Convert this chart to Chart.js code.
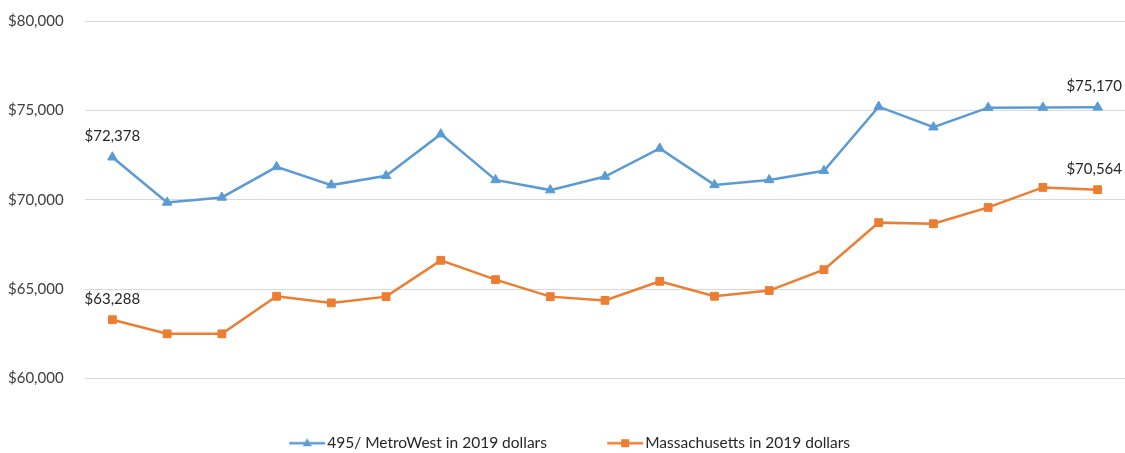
<!DOCTYPE html>
<html>
<head>
<meta charset="utf-8">
<script src="https://cdn.jsdelivr.net/npm/chart.js@4.4.1/dist/chart.umd.min.js"></script>
<style>
  html, body { margin: 0; padding: 0; background: #ffffff; }
  #wrap { width: 1125px; height: 453px; position: relative; }
</style>
</head>
<body>
<div id="wrap"><canvas id="c" width="1125" height="453"></canvas></div>
<script>
const categories = ["2001","2002","2003","2004","2005","2006","2007","2008","2009","2010","2011","2012","2013","2014","2015","2016","2017","2018","2019"];
const metroWest = [72378, 69850, 70130, 71840, 70820, 71340, 73670, 71110, 70540, 71300, 72870, 70830, 71110, 71620, 75210, 74060, 75150, 75160, 75170];
const massachusetts = [63288, 62500, 62500, 64600, 64230, 64580, 66610, 65530, 64580, 64370, 65440, 64600, 64920, 66090, 68720, 68660, 69570, 70690, 70564];
const seriesNames = ["495/ MetroWest in 2019 dollars", "Massachusetts in 2019 dollars"];
const yTicks = [60000, 65000, 70000, 75000, 80000];

const BLUE = "#5B9BD5";
const ORANGE = "#ED7D31";
const FONT = "Lato, 'Open Sans', sans-serif";
const LEG_PAD = 54;
const LEG_MARGIN = 11.5;

function legendIcon(color, style) {
  const cv = document.createElement("canvas");
  cv.width = Math.round(36 + LEG_MARGIN); cv.height = 14;
  const g = cv.getContext("2d");
  const o = cv.width - 36;
  g.strokeStyle = color; g.lineWidth = 2.5;
  g.beginPath(); g.moveTo(o, 7); g.lineTo(o + 36, 7); g.stroke();
  g.fillStyle = color;
  if (style === "triangle") {
    g.beginPath(); g.moveTo(o + 18, 2); g.lineTo(o + 22.5, 10); g.lineTo(o + 13.5, 10); g.closePath(); g.fill();
  } else {
    g.fillRect(o + 14, 3, 8, 8);
  }
  return cv;
}

const endLabels = {
  id: "endLabels",
  afterDatasetsDraw(chart) {
    const ctx = chart.ctx;
    ctx.save();
    ctx.font = "15px " + FONT;
    ctx.fillStyle = "#262626";
    ctx.textBaseline = "middle";
    ctx.textAlign = "center";
    chart.data.datasets.forEach((ds, di) => {
      const meta = chart.getDatasetMeta(di);
      [0, ds.data.length - 1].forEach(i => {
        const el = meta.data[i];
        const txt = "$" + ds.data[i].toLocaleString("en-US");
        const w = ctx.measureText(txt).width;
        let x = el.x;
        if (x + w / 2 > chart.width - 3) x = chart.width - 3 - w / 2;
        ctx.fillText(txt, x, el.y - 21);
      });
    });
    ctx.restore();
  }
};

new Chart(document.getElementById("c"), {
  type: "line",
  data: {
    labels: categories,
    datasets: [
      {
        label: seriesNames[0], data: metroWest,
        borderColor: BLUE, backgroundColor: BLUE, borderWidth: 2.5,
        pointStyle: "triangle", pointRadius: 5.5, pointHoverRadius: 5.5,
        pointBackgroundColor: BLUE, pointBorderColor: BLUE, pointBorderWidth: 1,
        tension: 0
      },
      {
        label: seriesNames[1], data: massachusetts,
        borderColor: ORANGE, backgroundColor: ORANGE, borderWidth: 2.5,
        pointStyle: "rect", pointRadius: 5.5, pointHoverRadius: 5.5,
        pointBackgroundColor: ORANGE, pointBorderColor: ORANGE, pointBorderWidth: 1,
        tension: 0
      }
    ]
  },
  options: {
    responsive: false,
    animation: false,
    layout: { autoPadding: false, padding: { top: 21, right: 0, left: 8, bottom: -8 } },
    scales: {
      x: {
        offset: true,
        grid: { display: false, drawTicks: false },
        border: { display: false },
        ticks: { display: false },
        afterFit(scale) { scale.height = 3; }
      },
      y: {
        min: 60000, max: 80000,
        afterBuildTicks(scale) { scale.ticks = yTicks.map(v => ({ value: v })); },
        afterFit(scale) { scale.width = 77; },
        grid: { color: "#d9d9d9", lineWidth: 1, drawTicks: false },
        border: { display: false },
        ticks: {
          padding: 0,
          crossAlign: "far",
          color: "#404040",
          font: { family: FONT, size: 15 },
          callback: v => "$" + Number(v).toLocaleString("en-US")
        }
      }
    },
    plugins: {
      legend: {
        position: "bottom",
        labels: {
          usePointStyle: true,
          pointStyleWidth: LEG_MARGIN + 25,
          padding: LEG_PAD,
          color: "#262626",
          font: { family: FONT, size: 15.5 },
          generateLabels(chart) {
            return chart.data.datasets.map((ds, i) => ({
              text: ds.label,
              pointStyle: legendIcon(i === 0 ? BLUE : ORANGE, i === 0 ? "triangle" : "rect"),
              fillStyle: i === 0 ? BLUE : ORANGE,
              strokeStyle: i === 0 ? BLUE : ORANGE,
              lineWidth: 0,
              fontColor: "#262626",
              datasetIndex: i,
              hidden: false
            }));
          }
        }
      },
      tooltip: { enabled: false },
      title: { display: false }
    }
  },
  plugins: [endLabels]
});
</script>
</body>
</html>
